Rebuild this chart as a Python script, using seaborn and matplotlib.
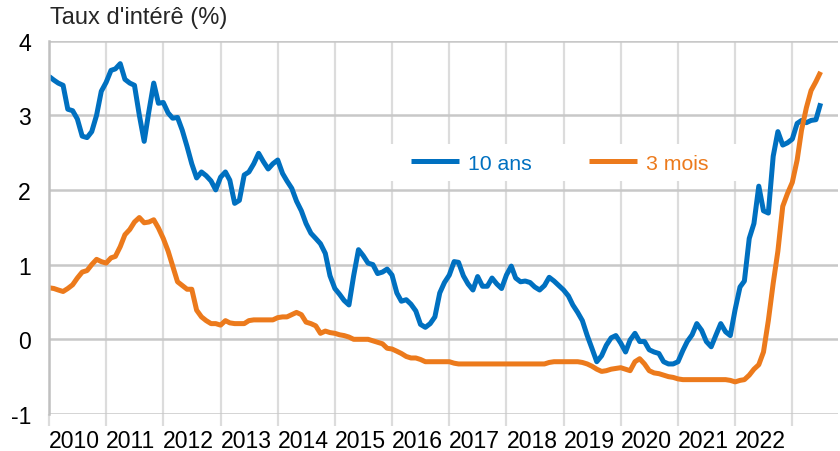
import numpy as np
import pandas as pd
import matplotlib
matplotlib.use("Agg")
import matplotlib.pyplot as plt
from matplotlib.patches import Rectangle
import seaborn as sns

# Monthly series, starting January 2010
start_month = "2010-01-01"

ten_year = [
    3.52, 3.47, 3.43, 3.40, 3.08, 3.06, 2.95, 2.72, 2.70, 2.78,
    3.00, 3.32, 3.44, 3.60, 3.62, 3.69, 3.48, 3.43, 3.40, 3.00,
    2.65, 3.05, 3.43, 3.16, 3.17, 3.03, 2.96, 2.97, 2.80, 2.58,
    2.35, 2.16, 2.24, 2.19, 2.12, 2.00, 2.17, 2.24, 2.13, 1.82,
    1.86, 2.20, 2.24, 2.35, 2.49, 2.38, 2.28, 2.35, 2.40, 2.22,
    2.12, 2.02, 1.85, 1.72, 1.55, 1.42, 1.35, 1.28, 1.15, 0.85,
    0.68, 0.60, 0.52, 0.46, 0.85, 1.20, 1.12, 1.02, 1.00, 0.88,
    0.90, 0.94, 0.86, 0.62, 0.51, 0.53, 0.47, 0.38, 0.20, 0.16,
    0.21, 0.30, 0.62, 0.76, 0.86, 1.04, 1.03, 0.85, 0.74, 0.66,
    0.84, 0.71, 0.71, 0.82, 0.74, 0.68, 0.86, 0.98, 0.82, 0.77,
    0.78, 0.76, 0.70, 0.66, 0.72, 0.83, 0.78, 0.72, 0.66, 0.58,
    0.46, 0.36, 0.25, 0.05, -0.12, -0.30, -0.22, -0.08, 0.02, 0.05,
    -0.05, -0.17, -0.01, 0.08, -0.03, -0.03, -0.14, -0.17, -0.19, -0.30,
    -0.33, -0.33, -0.30, -0.15, -0.03, 0.06, 0.21, 0.12, -0.03, -0.10,
    0.06, 0.21, 0.10, 0.05, 0.40, 0.70, 0.78, 1.35, 1.55, 2.05,
    1.72, 1.69, 2.45, 2.78, 2.60, 2.63, 2.68, 2.89, 2.93, 2.90,
    2.93, 2.94, 3.16,
]

three_month = [
    0.69, 0.68, 0.66, 0.64, 0.68, 0.73, 0.82, 0.90, 0.92, 1.00,
    1.07, 1.04, 1.02, 1.09, 1.11, 1.24, 1.40, 1.47, 1.57, 1.63,
    1.56, 1.57, 1.60, 1.49, 1.35, 1.18, 0.98, 0.77, 0.72, 0.67,
    0.67, 0.39, 0.30, 0.25, 0.21, 0.21, 0.19, 0.25, 0.22, 0.21,
    0.21, 0.21, 0.25, 0.26, 0.26, 0.26, 0.26, 0.26, 0.29, 0.30,
    0.30, 0.33, 0.36, 0.33, 0.23, 0.21, 0.18, 0.08, 0.11, 0.09,
    0.08, 0.06, 0.05, 0.03, 0.00, 0.00, 0.00, 0.00, -0.02, -0.04,
    -0.06, -0.12, -0.13, -0.16, -0.19, -0.23, -0.25, -0.25, -0.27, -0.30,
    -0.30, -0.30, -0.30, -0.30, -0.30, -0.32, -0.33, -0.33, -0.33, -0.33,
    -0.33, -0.33, -0.33, -0.33, -0.33, -0.33, -0.33, -0.33, -0.33, -0.33,
    -0.33, -0.33, -0.33, -0.33, -0.33, -0.31, -0.30, -0.30, -0.30, -0.30,
    -0.30, -0.30, -0.31, -0.33, -0.36, -0.40, -0.43, -0.42, -0.40, -0.39,
    -0.38, -0.40, -0.42, -0.30, -0.26, -0.33, -0.42, -0.45, -0.46, -0.48,
    -0.50, -0.51, -0.53, -0.54, -0.54, -0.54, -0.54, -0.54, -0.54, -0.54,
    -0.54, -0.54, -0.54, -0.55, -0.57, -0.55, -0.54, -0.48, -0.40, -0.34,
    -0.17, 0.25, 0.75, 1.18, 1.78, 1.95, 2.10, 2.40, 2.80, 3.10,
    3.33, 3.45, 3.58,
]

series_names = ["10 ans", "3 mois"]
series_colors = ["#0070C0", "#EC7A1C"]
tick_years = list(range(2010, 2024))
tick_labels = [str(y) for y in range(2010, 2023)] + [""]
y_ticks = [-1, 0, 1, 2, 3, 4]
y_title = "Taux d'intérê (%)"

dates = pd.date_range(start_month, periods=len(ten_year), freq="MS")
df = pd.DataFrame({
    "date": list(dates) + list(dates),
    "taux": ten_year + three_month,
    "serie": [series_names[0]] * len(ten_year) + [series_names[1]] * len(three_month),
})

sns.set_theme(style="white")
plt.rcParams["font.family"] = ["Liberation Sans", "DejaVu Sans"]

W, H = 840, 452
fig = plt.figure(figsize=(W / 100, H / 100), dpi=100)
left_px, right_px, top_px, bottom_px = 49, 838, 41.5, 415
ax = fig.add_axes([left_px / W, 1 - bottom_px / H,
                   (right_px - left_px) / W, (bottom_px - top_px) / H])

sns.lineplot(data=df, x="date", y="taux", hue="serie", hue_order=series_names,
             palette=series_colors, linewidth=3.6, ax=ax, legend=False)
for line in ax.get_lines():
    line.set_solid_capstyle("butt")

ax.set_ylim(-1, 4)
ax.set_yticks(y_ticks)
ax.set_yticklabels([str(v) for v in y_ticks])
ax.set_xlim(pd.Timestamp("2010-01-01"), pd.Timestamp("2023-10-20"))
ax.set_xticks([pd.Timestamp(f"{y}-01-01") for y in tick_years])
ax.set_xticklabels(tick_labels)
for lab in ax.get_xticklabels():
    lab.set_ha("left")
ax.set_xlabel("")
ax.set_ylabel("")

ax.set_axisbelow(True)
ax.yaxis.grid(True, color="#c8c8c8", linewidth=1.8)
ax.xaxis.grid(True, color="#dcdcdc", linewidth=1.6)
for s in ["top", "right", "bottom"]:
    ax.spines[s].set_visible(False)
ax.spines["left"].set_color("#c0c0c0")
ax.spines["left"].set_linewidth(1.8)

ax.tick_params(axis="x", which="major", direction="out", length=8.6, width=1.6,
               color="#dcdcdc", pad=2.5, labelsize=16.6, labelcolor="black")
ax.tick_params(axis="y", which="major", length=0, pad=13, labelsize=16.6,
               labelcolor="black")
ax.tick_params(axis="x", bottom=True)

# white panel behind the legend
x0 = (390 - left_px) / (right_px - left_px)
x1 = (741 - left_px) / (right_px - left_px)
y0 = (bottom_px - 182) / (bottom_px - top_px)
y1 = (bottom_px - 145) / (bottom_px - top_px)
ax.add_patch(Rectangle((x0, y0), x1 - x0, y1 - y0, transform=ax.transAxes,
                       facecolor="white", edgecolor="none", zorder=1))

handles = [plt.Line2D([], [], color=c, linewidth=3.6, solid_capstyle="butt")
           for c in series_colors]
ax.legend(handles, series_names, ncol=2, loc="center",
          bbox_to_anchor=(560 / W, 1 - 164 / H), bbox_transform=fig.transFigure,
          frameon=False, handlelength=2.26, handletextpad=0.42,
          columnspacing=2.7, fontsize=15.3, labelcolor="linecolor")

fig.text(50 / W, 1 - 7 / H, y_title, fontsize=17, ha="left", va="top")

fig.savefig("out.png", dpi=100)
